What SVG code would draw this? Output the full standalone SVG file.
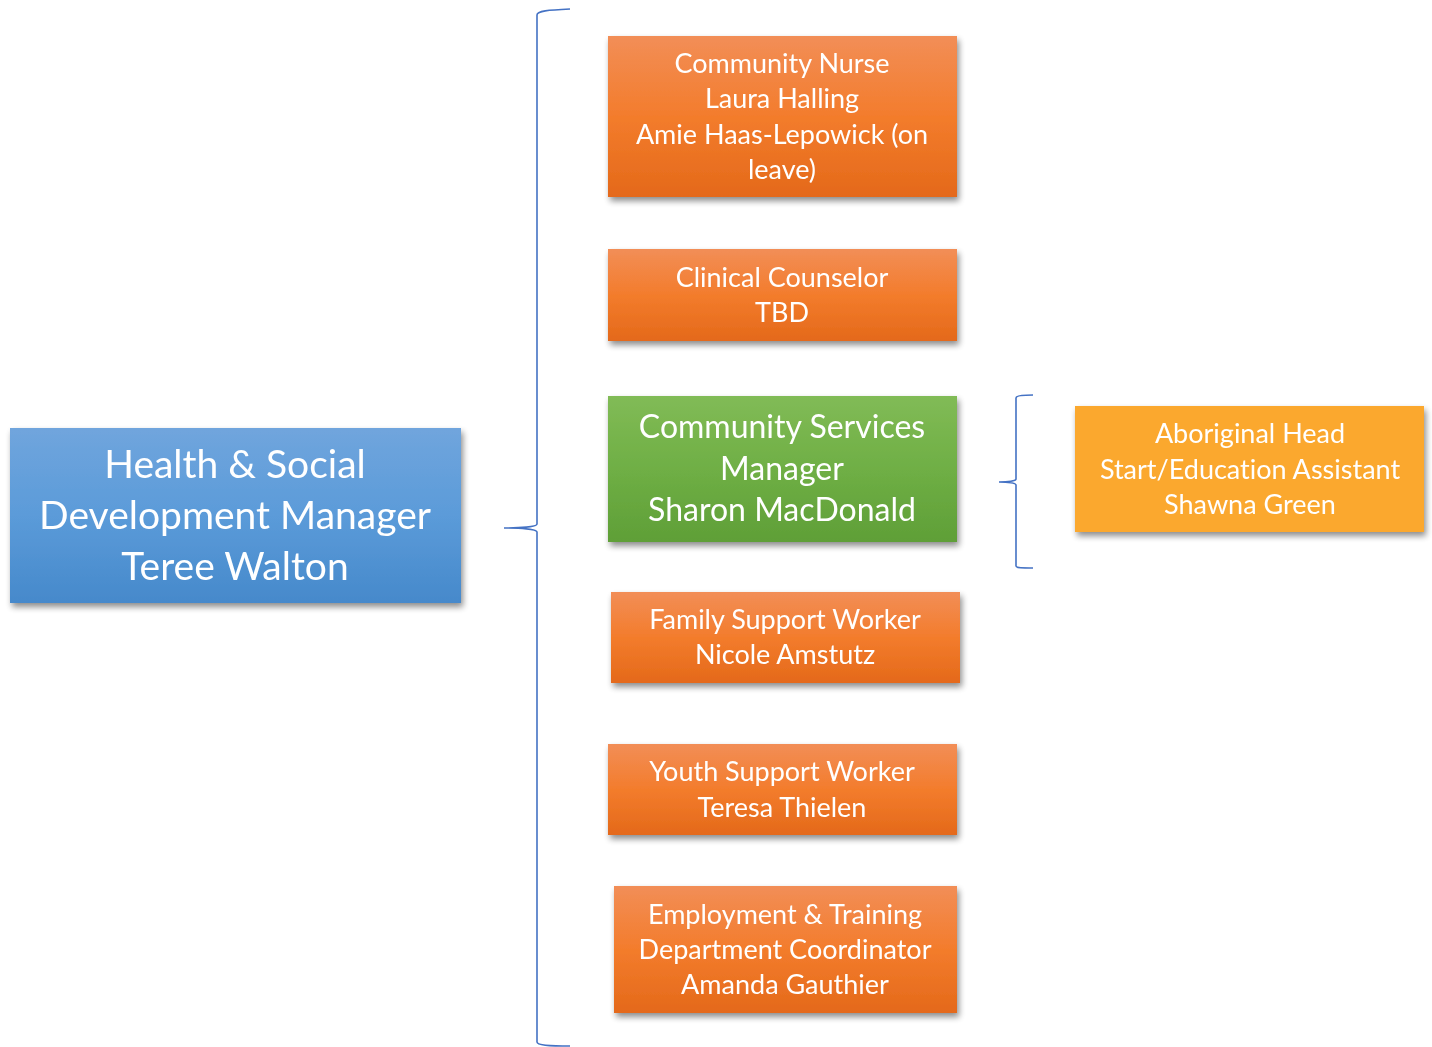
<svg xmlns="http://www.w3.org/2000/svg" width="1432" height="1047" viewBox="0 0 1432 1047">
<style>
text{font-family:Lato,"Noto Sans","Liberation Sans",sans-serif;fill:#fff;text-anchor:middle;font-variant-ligatures:none}
.t25{font-size:27px}
.t30{font-size:32px}
.t38{font-size:39px}
.brace{fill:none;stroke:#4472c4;stroke-width:1.6}
</style>
<defs>
<linearGradient id="gOr" x1="0" y1="0" x2="0" y2="1"><stop offset="0" stop-color="#f28e57"/><stop offset="0.5" stop-color="#f37c2c"/><stop offset="1" stop-color="#e4691a"/></linearGradient>
<linearGradient id="gBl" x1="0" y1="0" x2="0" y2="1"><stop offset="0" stop-color="#70a5dd"/><stop offset="0.5" stop-color="#5b9bd9"/><stop offset="1" stop-color="#4689cb"/></linearGradient>
<linearGradient id="gGr" x1="0" y1="0" x2="0" y2="1"><stop offset="0" stop-color="#81bb56"/><stop offset="0.5" stop-color="#6faf45"/><stop offset="1" stop-color="#5f9f37"/></linearGradient>
<filter id="sh" x="-10%" y="-10%" width="125%" height="135%"><feGaussianBlur in="SourceAlpha" stdDeviation="3"/><feOffset dx="2" dy="4"/><feComponentTransfer><feFuncA type="linear" slope="0.45"/></feComponentTransfer><feMerge><feMergeNode/><feMergeNode in="SourceGraphic"/></feMerge></filter>
</defs>
<g id="connectors">
<path class="brace" d="M570,9 C548,10 537,11 537,15 L537,524 C537,527 520,528 504,528 C520,528 537,529 537,532 L537,1042 C537,1045 548,1046 570,1046"/>
<path class="brace" d="M1033,395 C1022,395 1016,396 1016,398 L1016,479 C1016,481 1008,482 999,482 C1008,482 1016,483 1016,485 L1016,566 C1016,568 1022,568 1033,568"/>
</g>
<g id="manager" filter="url(#sh)">
<rect x="10" y="428" width="451" height="175" fill="url(#gBl)"/>
<text class="t38" x="235" y="478">Health &amp; Social</text>
<text class="t38" x="235" y="529">Development Manager</text>
<text class="t38" x="235" y="580">Teree Walton</text>
</g>
<g id="nurse" filter="url(#sh)">
<rect x="608" y="36" width="349" height="161" fill="url(#gOr)"/>
<text class="t25" x="782" y="73">Community Nurse</text>
<text class="t25" x="782" y="108">Laura Halling</text>
<text class="t25" x="782" y="144">Amie Haas-Lepowick (on</text>
<text class="t25" x="782" y="179">leave)</text>
</g>
<g id="counselor" filter="url(#sh)">
<rect x="608" y="249" width="349" height="92" fill="url(#gOr)"/>
<text class="t25" x="782" y="287">Clinical Counselor</text>
<text class="t25" x="782" y="322">TBD</text>
</g>
<g id="csm" filter="url(#sh)">
<rect x="608" y="396" width="349" height="146" fill="url(#gGr)"/>
<text class="t30" x="782" y="438">Community Services</text>
<text class="t30" x="782" y="480">Manager</text>
<text class="t30" x="782" y="521">Sharon MacDonald</text>
</g>
<g id="family" filter="url(#sh)">
<rect x="611" y="592" width="349" height="91" fill="url(#gOr)"/>
<text class="t25" x="785" y="629">Family Support Worker</text>
<text class="t25" x="785" y="664">Nicole Amstutz</text>
</g>
<g id="youth" filter="url(#sh)">
<rect x="608" y="744" width="349" height="91" fill="url(#gOr)"/>
<text class="t25" x="782" y="781">Youth Support Worker</text>
<text class="t25" x="782" y="817">Teresa Thielen</text>
</g>
<g id="employment" filter="url(#sh)">
<rect x="614" y="886" width="343" height="127" fill="url(#gOr)"/>
<text class="t25" x="785" y="924">Employment &amp; Training</text>
<text class="t25" x="785" y="959">Department Coordinator</text>
<text class="t25" x="785" y="994">Amanda Gauthier</text>
</g>
<g id="headstart" filter="url(#sh)">
<rect x="1075" y="406" width="349" height="126" fill="#fba82f"/>
<text class="t25" x="1250" y="443">Aboriginal Head</text>
<text class="t25" x="1250" y="479">Start/Education Assistant</text>
<text class="t25" x="1250" y="514">Shawna Green</text>
</g>
</svg>
